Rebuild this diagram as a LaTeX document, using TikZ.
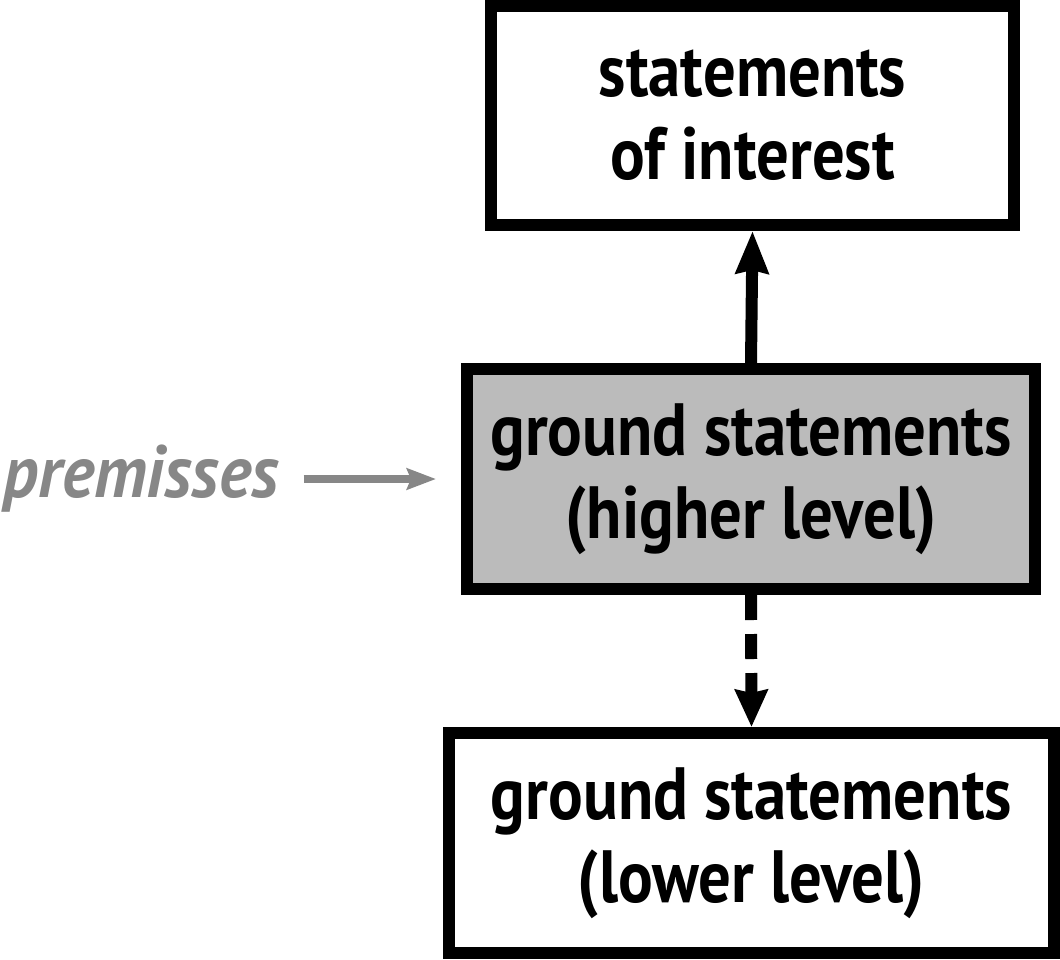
\documentclass[tikz,border=0pt]{standalone}
\usepackage{fontspec}
\setmainfont{PT Sans}[FakeStretch=0.875]
\newfontfamily\premfont{PT Sans}[FakeStretch=0.93]
\usetikzlibrary{arrows.meta}
\definecolor{boxgray}{HTML}{BBBBBB}
\definecolor{premgray}{HTML}{878787}
\tikzset{
  stmt/.style={draw=black, line width=12pt, inner sep=0pt, align=center,
    font=\fontsize{74}{83}\selectfont\bfseries},
  uparrow/.style={line width=12pt, -{Stealth[length=42pt, width=32pt, inset=3pt]}},
  dasharrow/.style={line width=12pt, dash pattern=on 25pt off 14pt,
    -{Stealth[length=37pt, width=32pt, inset=3pt]}},
  premarrow/.style={draw=premgray, line width=8pt,
    -{Stealth[length=29pt, width=21pt, inset=4pt]}},
}
\begin{document}
\begin{tikzpicture}[x=1pt, y=-1pt]
\useasboundingbox (0,0) rectangle (1060,959);
\node[stmt, minimum width=523pt, minimum height=219pt] (top) at (752.5,115.5)
  {statements\\of interest};
\node[stmt, fill=boxgray, minimum width=568pt, minimum height=220pt] (mid) at (751,479)
  {ground statements\\(higher level)};
\node[stmt, minimum width=605pt, minimum height=220pt] (bot) at (751.5,843)
  {ground statements\\(lower level)};
\node[anchor=base, inner sep=0pt, text=premgray,
  font=\premfont\fontsize{74}{83}\selectfont\bfseries\itshape] (prem) at (141,497) {premisses};
\draw[uparrow] (mid.north) -- (top.south);
\draw[dasharrow] (mid.south) -- (bot.north);
\draw[premarrow, shorten <=25pt, shorten >=25pt] (prem.east |- mid.west) -- (mid.west);
\end{tikzpicture}
\end{document}
